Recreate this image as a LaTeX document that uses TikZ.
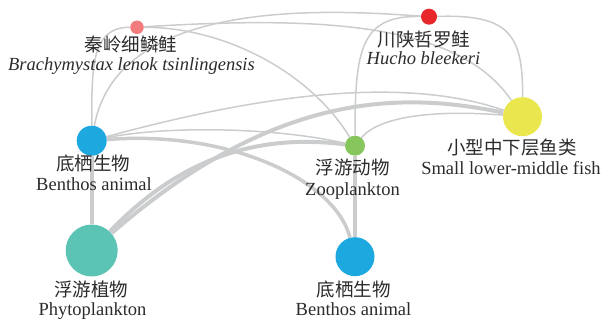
\documentclass[tikz,border=0pt]{standalone}
\usepackage{fontspec}
\setmainfont{Liberation Serif}
\newfontfamily\cjkfont{Noto Sans CJK SC}
\usetikzlibrary{backgrounds}
\definecolor{edgegray}{HTML}{CBCCCD}
\definecolor{txt}{HTML}{2B2B2B}
\definecolor{cpink}{HTML}{F27B7D}
\definecolor{cred}{HTML}{E72729}
\definecolor{cblue}{HTML}{1DA8E0}
\definecolor{cgreen}{HTML}{87C65D}
\definecolor{cyellow}{HTML}{E9E64E}
\definecolor{cteal}{HTML}{5BC4B5}
\begin{document}
\begin{tikzpicture}[x=1pt,y=-1pt,
  dot/.style={circle,inner sep=0pt,draw=none},
  cn/.style={anchor=base,inner sep=0pt,font=\cjkfont\fontsize{18.5}{20}\selectfont,text=txt},
  en/.style={anchor=base,inner sep=0pt,font=\fontsize{18.5}{20}\selectfont,text=txt},
  lk/.style={draw=edgegray,line width=1.5pt},
  hk/.style={draw=edgegray,line width=4pt},
  mk/.style={draw=edgegray,line width=3.5pt}]
\useasboundingbox (0,0) rectangle (602,320);
% nodes
\node[dot,fill=cpink,minimum size=13.5pt] (brach) at (137,27.3) {};
\node[dot,fill=cred,minimum size=16pt] (hucho) at (429,16.7) {};
\node[dot,fill=cblue,minimum size=30pt] (bentA) at (91.7,140.7) {};
\node[dot,fill=cgreen,minimum size=20pt] (zoo) at (355,145.7) {};
\node[dot,fill=cyellow,minimum size=39pt] (fish) at (522.5,116.7) {};
\node[dot,fill=cteal,minimum size=52pt] (phyto) at (91.7,250.5) {};
\node[dot,fill=cblue,minimum size=39pt] (bentB) at (355,256.7) {};
% labels
\node[cn] (lbrachcn) at (131,52) {秦岭细鳞鲑};
\node[en,font=\itshape\fontsize{18.5}{20}\selectfont] (lbrachen) at (131.5,71) {Brachymystax lenok tsinlingensis};
\node[cn] (lhuchocn) at (424,46.5) {川陕哲罗鲑};
\node[en,font=\itshape\fontsize{18.5}{20}\selectfont] (lhuchoen) at (423.5,65) {Hucho bleekeri};
\node[cn] (lbentAcn) at (93,171) {底栖生物};
\node[en] (lbentAen) at (94,191) {Benthos animal};
\node[cn] (lzoocn) at (352.5,175) {浮游动物};
\node[en] (lzooen) at (352.5,196) {Zooplankton};
\node[cn] (lfishcn) at (512,155) {小型中下层鱼类};
\node[en] (lfishen) at (511,175) {Small lower-middle fish};
\node[cn] (lphytocn) at (91,296.5) {浮游植物};
\node[en] (lphytoen) at (92.5,315) {Phytoplankton};
\node[cn] (lbentBcn) at (353.5,296.5) {底栖生物};
\node[en] (lbentBen) at (353.5,315) {Benthos animal};
% edges
\begin{scope}[on background layer]
\draw[lk] (brach) .. controls (90,27) and (92,70) .. (bentA);
\draw[lk] (brach) .. controls (223,27) and (309,71) .. (zoo);
\draw[lk] (brach) .. controls (330,15) and (460,25) .. (fish);
\draw[lk] (bentA) .. controls (118,-4) and (334,10) .. (hucho);
\draw[lk] (hucho) .. controls (360,15) and (355,50) .. (zoo);
\draw[lk] (hucho) .. controls (510,14) and (523,35) .. (fish);
\draw[lk] (bentA) .. controls (238,101) and (393,72) .. (fish);
\draw[lk] (bentA) .. controls (170,125) and (280,128) .. (zoo);
\draw[lk] (zoo) .. controls (380,115) and (440,110) .. (fish);
\draw[hk] (phyto) .. controls (274,92) and (400,91) .. (fish);
\draw[hk] (phyto) .. controls (184,154) and (263,134) .. (zoo);
\draw[hk] (bentA) -- (phyto);
\draw[mk] (bentA) .. controls (230,130) and (335,180) .. (bentB);
\draw[hk] (zoo) -- (bentB);
\end{scope}
\end{tikzpicture}
\end{document}
